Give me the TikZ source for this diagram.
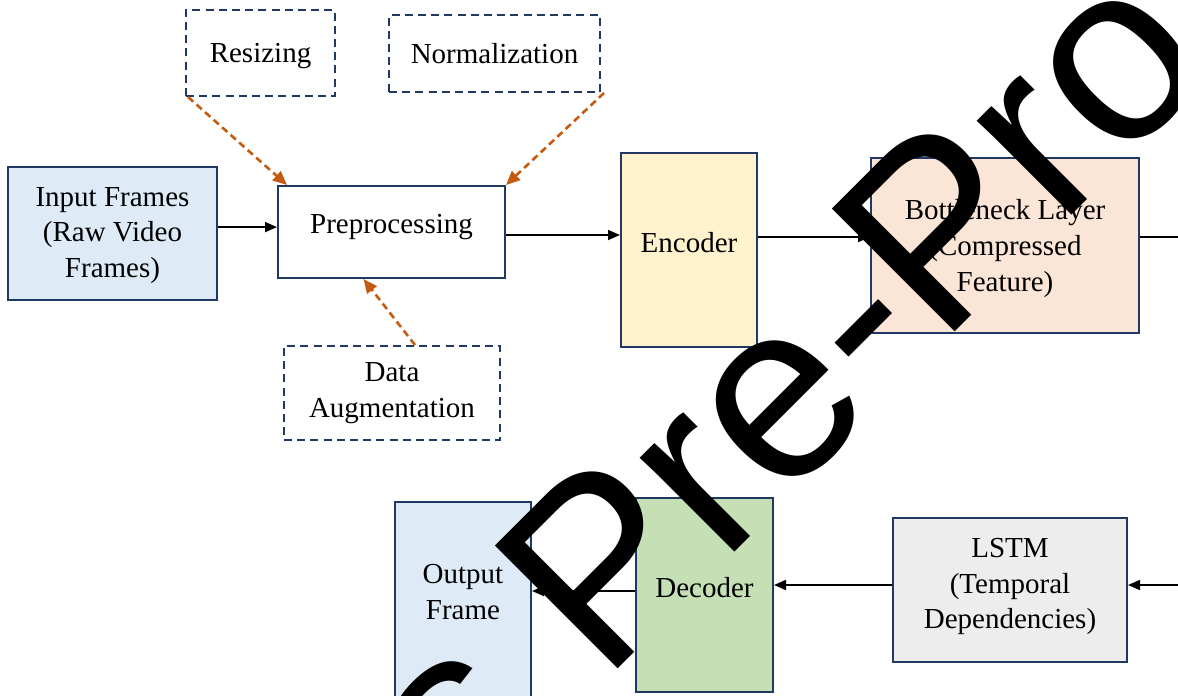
\documentclass[tikz,border=0pt]{standalone}
\usepackage{fontspec}
\setmainfont{Liberation Serif}
\newfontfamily\markfont{Liberation Sans}
\usepackage{xcolor}
\usetikzlibrary{arrows.meta, positioning, calc}

\definecolor{navy}{HTML}{1F3864}
\definecolor{rust}{HTML}{C55A11}
\definecolor{paleblue}{HTML}{DEEBF7}
\definecolor{paleyellow}{HTML}{FFF2CC}
\definecolor{palepeach}{HTML}{FBE5D6}
\definecolor{palegrey}{HTML}{EDEDED}
\definecolor{palegreen}{HTML}{C5E0B4}

\begin{document}
\begin{tikzpicture}[x=0.5pt, y=-0.5pt,
    font=\fontsize{14.5}{17.8}\selectfont,
    block/.style={draw=navy, line width=1pt, align=center, inner sep=0pt},
    dashbox/.style={draw=navy, line width=1pt, dash pattern=on 4pt off 2.6pt,
                    align=center, inner sep=0pt},
    flow/.style={-{Triangle[length=6pt,width=5pt]}, line width=0.9pt},
    aux/.style={-{Triangle[length=7pt,width=6pt]}, draw=rust, line width=1.3pt,
                dash pattern=on 3.5pt off 2.2pt}]
  \useasboundingbox (0,0) rectangle (1178,696);

  % upper row
  \node[block, fill=paleblue, minimum width=104.5pt, minimum height=66.5pt,
        text depth=1pt] (inframe) at (112.5,233.5) {Input Frames\\(Raw Video\\Frames)};
  \node[block, fill=white, minimum width=113.5pt, minimum height=46pt,
        text depth=8pt] (prep) at (391.5,232) {Preprocessing};
  \node[block, fill=paleyellow, minimum width=68pt, minimum height=97pt,
        text depth=8pt] (enc) at (689,250) {Encoder};
  \node[block, fill=palepeach, minimum width=134pt, minimum height=87.5pt,
        text depth=0pt] (bottle) at (1005,245.5) {Bottleneck Layer\\(Compressed\\Feature)};

  % preprocessing steps
  \node[dashbox, minimum width=74.5pt, minimum height=43pt,
        text depth=0pt] (resize) at (260.5,53) {Resizing};
  \node[dashbox, minimum width=105.5pt, minimum height=38.5pt] (norm) at (494.5,53.5) {Normalization};
  \node[dashbox, minimum width=108pt, minimum height=47pt] (aug) at (392,393) {Data\\Augmentation};

  % lower row
  \node[block, fill=palegrey, minimum width=117pt, minimum height=72pt,
        text depth=6.3pt] (lstm) at (1010,590) {LSTM\\(Temporal\\Dependencies)};
  \node[block, fill=palegreen, minimum width=68.5pt, minimum height=97pt,
        text depth=8pt] (dec) at (704.5,595) {Decoder};
  \node[block, fill=paleblue, minimum width=68pt, minimum height=100pt,
        text depth=10pt] (outf) at (463,602) {Output\\Frame};

  \coordinate (edgeA) at (1180,237);
  \coordinate (edgeB) at (1180,585);

  % main data path
  \draw[flow] ([yshift=3.2pt]inframe.east) -- ([yshift=3.2pt]inframe.east -| prep.west);
  \draw[flow] ([yshift=-1.5pt]prep.east) -- ([yshift=-1.5pt]prep.east -| enc.west);
  \draw[flow] ([yshift=6.5pt]enc.east) -- ([yshift=6.5pt]enc.east -| bottle.west);
  \draw[line width=0.9pt] ([yshift=4.25pt]bottle.east) -- (edgeA);
  \draw[flow] (edgeB) -- (edgeB -| lstm.east);
  \draw[flow] ([yshift=2.5pt]lstm.west) -- ([yshift=2.5pt]lstm.west -| dec.east);
  \draw[flow] ([yshift=2pt]dec.west) -- ([yshift=2pt]dec.west -| outf.east);

  % preprocessing inputs
  \draw[aux] ([xshift=1.5pt]resize.south west) -- ([xshift=5pt]prep.north west);
  \draw[aux] ([xshift=1.5pt]norm.south east) -- (prep.north east);
  \draw[aux] ([xshift=11.5pt]aug.north) -- ([xshift=-14pt]prep.south);

  % stamp across the page
  \begin{scope}
    \clip (0,0) rectangle (1178,696);
    \node[rotate=45, anchor=base west, inner sep=0pt,
          font=\markfont\fontsize{126.25}{130}\selectfont] (stamp) at (464.3,822.7) {s Pre-Pro};
  \end{scope}
\end{tikzpicture}
\end{document}
